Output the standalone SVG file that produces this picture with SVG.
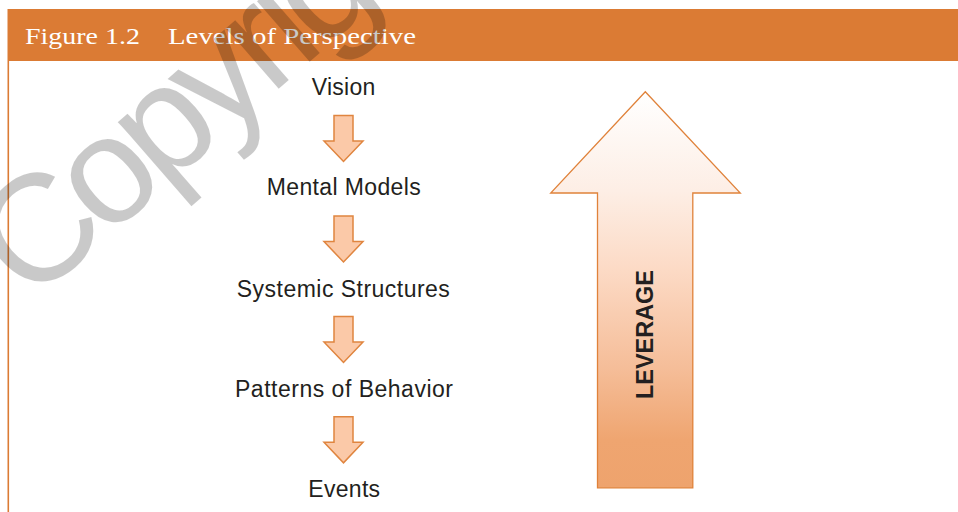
<svg xmlns="http://www.w3.org/2000/svg" width="958" height="512" viewBox="0 0 958 512">
<defs>
<style>
.lbl{font-family:"Liberation Sans",Arial,sans-serif;font-size:23px;fill:#231F20;text-anchor:middle}
.title{font-family:"Liberation Serif","Times New Roman",serif;font-size:23px;fill:#FFFFFF}
.sarrow{fill:#FBC9A8;stroke:#E0853F;stroke-width:1.5;stroke-linejoin:miter}
.wm{font-family:"Liberation Sans",Arial,sans-serif;font-size:152px;letter-spacing:-9px;fill:#000000;fill-opacity:0.21}
</style>
<linearGradient id="bigGrad" x1="0" y1="92" x2="0" y2="488" gradientUnits="userSpaceOnUse">
<stop offset="0" stop-color="#FFFFFF"/>
<stop offset="0.25" stop-color="#FDEEE5"/>
<stop offset="0.45" stop-color="#FCDAC5"/>
<stop offset="0.7" stop-color="#F5BD98"/>
<stop offset="0.88" stop-color="#EFA570"/>
<stop offset="1" stop-color="#EEA36D"/>
</linearGradient>
<path id="small" d="M-9.5,0 H9.5 V25.5 H19.5 L0,46 L-19.5,25.5 H-9.5 Z"/>
</defs>
<rect width="958" height="512" fill="#FFFFFF"/>
<g id="frame">
<rect x="7.5" y="9" width="951" height="52" fill="#DB7B34"/>
<line x1="8.3" y1="61" x2="8.3" y2="512" stroke="#DB7B34" stroke-width="1.6"/>
<text class="title" x="25" y="43.5" textLength="115" lengthAdjust="spacingAndGlyphs">Figure 1.2</text>
<text class="title" x="168" y="43.5" textLength="248" lengthAdjust="spacingAndGlyphs">Levels of Perspective</text>
</g>
<g id="node-vision"><text class="lbl" x="343.5" y="95" textLength="63.5">Vision</text></g>
<g id="node-mental-models"><text class="lbl" x="343.7" y="195.2" textLength="154">Mental Models</text></g>
<g id="node-systemic-structures"><text class="lbl" x="343.3" y="296.7" textLength="213">Systemic Structures</text></g>
<g id="node-patterns"><text class="lbl" x="344" y="396.8" textLength="218">Patterns of Behavior</text></g>
<g id="node-events"><text class="lbl" x="344.2" y="497.3" textLength="71.7">Events</text></g>
<g id="connectors">
<use href="#small" class="sarrow" x="343.5" y="115.5"/>
<use href="#small" class="sarrow" x="343.5" y="216"/>
<use href="#small" class="sarrow" x="343.5" y="316.5"/>
<use href="#small" class="sarrow" x="343.5" y="416.8"/>
</g>
<g id="leverage">
<path d="M645.3,91.7 L740.3,193 H692.8 V487.8 H597.5 V193 H550.7 Z" fill="url(#bigGrad)" stroke="#E0823A" stroke-width="1.3" stroke-linejoin="miter"/>
<text transform="translate(652.5,334.5) rotate(-90)" x="0" y="0" text-anchor="middle" font-family="'Liberation Sans',Arial,sans-serif" font-weight="bold" font-size="23.5" fill="#231F20" textLength="129" lengthAdjust="spacingAndGlyphs">LEVERAGE</text>
</g>
<text class="wm" transform="translate(30,305) rotate(-41)">Copyright</text>
</svg>
